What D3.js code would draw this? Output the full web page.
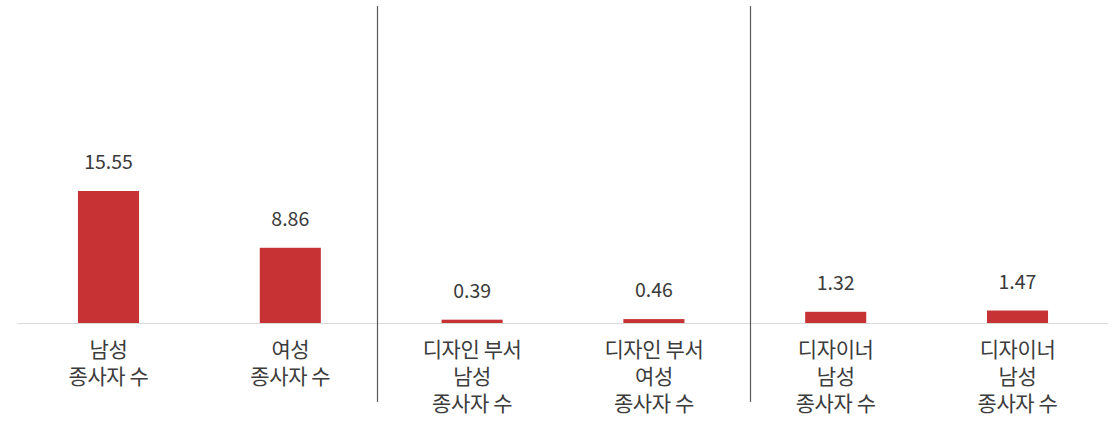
<!DOCTYPE html>
<html><head><meta charset="utf-8">
<script src="https://cdn.jsdelivr.net/npm/d3@7"></script>
<style>body{margin:0;background:#fff}svg{display:block}</style>
</head><body><svg id="c" width="1116" height="423"></svg>
<script>
const categories = [
  ["남성","종사자 수"],
  ["여성","종사자 수"],
  ["디자인 부서","남성","종사자 수"],
  ["디자인 부서","여성","종사자 수"],
  ["디자이너","남성","종사자 수"],
  ["디자이너","남성","종사자 수"]
];
const values = [15.55, 8.86, 0.39, 0.46, 1.32, 1.47];
const labels = ["15.55","8.86","0.39","0.46","1.32","1.47"];
const groupBreaks = [2, 4];

const svg = d3.select("#c");
const font = "'Noto Sans CJK KR','Noto Sans',sans-serif";
const ids = categories.map((d,i)=>i);
const x = d3.scaleBand().domain(ids).range([17.6, 1108.4]).paddingInner(0.664).paddingOuter(0.332);
const y = d3.scaleLinear().domain([0, 15.55]).range([323, 191]);

// baseline
svg.append("line").attr("x1",17.6).attr("x2",1108.4).attr("y1",y(0)+0.5).attr("y2",y(0)+0.5)
  .attr("stroke","#d9d9d9").attr("stroke-width",1.2);

// separators
const step = x.step();
const sepOff = [-4, 5];
groupBreaks.forEach((b,i)=>{
  const sx = Math.round(x(b) - x.paddingInner()*step/2 + sepOff[i]) + 0.5;
  svg.append("line").attr("x1",sx).attr("x2",sx).attr("y1",6).attr("y2",402)
    .attr("stroke","#595959").attr("stroke-width",1.2);
});

svg.selectAll("rect.bar").data(values).join("rect").attr("class","bar")
  .attr("x",(d,i)=>x(i)).attr("width",x.bandwidth())
  .attr("y",d=>y(d)).attr("height",d=>y(0)-y(d))
  .attr("fill","#c73234");

svg.selectAll("text.val").data(values).join("text").attr("class","val")
  .attr("x",(d,i)=>x(i)+x.bandwidth()/2).attr("y",d=>y(d)-22)
  .attr("text-anchor","middle").attr("font-family",font).attr("font-size",19.5)
  .attr("fill","#3a3a3a").text((d,i)=>labels[i]);

categories.forEach((lines,i)=>{
  const t = svg.append("text").attr("text-anchor","middle").attr("font-family",font)
    .attr("font-size",21).attr("fill","#3c3c3c").attr("letter-spacing","-0.4");
  lines.forEach((l,j)=>{
    t.append("tspan").attr("x",x(i)+x.bandwidth()/2).attr("y",y(0)+34+j*27).text(l);
  });
});
</script></body></html>
